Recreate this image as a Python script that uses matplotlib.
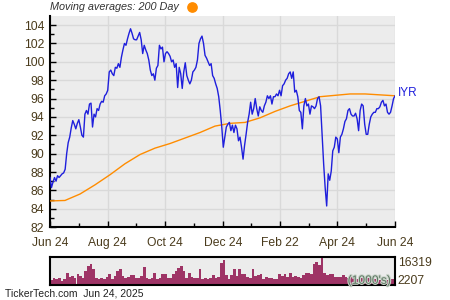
import numpy as np
import pandas as pd
import matplotlib
matplotlib.use('Agg')
import matplotlib.pyplot as plt
import matplotlib.patheffects as pe

plt.rcParams['font.family'] = ['Liberation Sans', 'DejaVu Sans']

# ============================================================
# Data
# ============================================================
ticker = 'IYR'
start_date = '2024-06-24'
end_date = '2025-06-24'

price = [
    87.4, 86.3, 86.9, 87.4, 87.0, 87.6, 87.4, 87.6, 87.8, 87.9,
    88.3, 90.0, 91.2, 91.8, 92.8, 93.6, 93.2, 92.7, 93.3, 93.7,
    92.9, 92.0, 91.8, 94.3, 94.7, 94.3, 95.4, 95.5, 92.9, 94.3,
    94.0, 94.9, 94.7, 95.4, 95.7, 95.6, 96.3, 96.5, 96.9, 98.9,
    99.1, 98.7, 98.5, 99.4, 99.3, 99.8, 99.4, 100.5, 101.3, 102.0,
    101.8, 102.5, 103.1, 103.6, 103.1, 102.5, 102.4, 102.4, 102.8, 103.2,
    102.4, 100.9, 101.8, 101.3, 100.9, 100.2, 99.1, 98.5, 98.7, 98.0,
    99.3, 99.6, 101.8, 101.4, 101.6, 100.0, 100.9, 101.1, 100.9, 100.6,
    100.0, 100.2, 99.4, 99.8, 97.2, 99.4, 98.7, 97.1, 98.9, 99.9,
    98.5, 98.0, 97.6, 98.0, 98.9, 99.1, 99.4, 100.2, 102.0, 102.5,
    102.8, 102.0, 100.7, 100.4, 100.0, 99.6, 99.8, 98.5, 98.2, 97.6,
    97.1, 96.2, 94.7, 92.9, 90.7, 91.8, 92.9, 93.2, 93.4, 92.5,
    93.1, 92.3, 93.1, 92.7, 91.4, 91.8, 90.7, 89.4, 90.9, 92.1,
    93.4, 94.3, 95.6, 94.3, 94.9, 96.0, 94.9, 94.1, 95.1, 94.7,
    94.5, 95.2, 95.6, 96.3, 96.0, 96.3, 95.4, 96.2, 96.2, 96.5,
    96.3, 96.9, 96.3, 97.4, 97.6, 98.0, 98.2, 98.7, 98.9, 98.2,
    98.9, 96.7, 96.9, 96.2, 94.7, 94.5, 92.7, 95.2, 96.0, 95.2,
    95.4, 94.3, 95.2, 95.1, 94.9, 95.2, 96.0, 96.2, 95.2, 92.1,
    88.9, 86.3, 84.3, 87.8, 87.1, 88.1, 90.3, 90.7, 91.8, 91.6,
    90.1, 91.8, 92.1, 92.7, 93.5, 93.8, 94.7, 94.9, 94.3, 94.1,
    94.1, 94.4, 93.8, 92.5, 94.7, 95.4, 95.2, 93.2, 92.1, 92.1,
    93.2, 94.0, 94.3, 94.5, 94.5, 94.9, 94.9, 95.1, 95.6, 95.8,
    95.2, 95.4, 94.5, 94.3, 94.5, 95.2, 96.0, 96.3,
]

ma200 = [
    84.85, 84.9, 85.6, 86.6, 87.7, 88.9, 89.9, 90.6, 91.1, 91.7,
    92.3, 93.0, 93.3, 93.4, 93.9, 94.6, 95.2, 95.7, 96.2, 96.35,
    96.5, 96.5, 96.4, 96.3,
]

# volume in thousands
volume = [
    2770, 4240, 3260, 3920, 2450, 3590, 7180, 4730, 5390, 3920,
    6200, 5060, 4240, 8000, 11260, 12400, 8980, 3920, 3260, 4240,
    3590, 4730, 6200, 3260, 5220, 8000, 8980, 5060, 3920, 4730,
    5870, 5870, 3920, 3920, 5060, 10280, 4240, 3590, 4240, 7020,
    3590, 4240, 6200,
    6200, 4240, 3920, 6530, 8000, 9630, 10930, 8000, 4240, 7180,
    4730, 4240, 3920, 8980, 3430, 4240, 3260, 4240, 5870, 3920,
    4730, 12730, 14690, 5870, 3590, 5870, 8980, 5060, 8980, 6200,
    6200, 4730, 3920, 8980, 5060, 5870, 6200, 3590, 4730, 3920,
    4240, 3260, 3590, 6200,
    5220, 6360, 4730, 6690, 4410, 5220, 4730, 4080, 5550, 6690,
    7180, 6530, 12400, 13380, 11590, 16319, 7180, 5710, 6200, 6360,
    4410, 4730, 4410, 5550, 4900, 3920, 4730, 4080, 3590, 4240,
    3920, 3590, 4080, 4730, 3260, 3590, 3920, 2940, 3590, 3260,
    2940, 3260, 3260,
]

tick_dates = ['2024-06-24', '2024-08-24', '2024-10-24', '2024-12-24',
              '2025-02-22', '2025-04-24', '2025-06-24']
tick_labels = ['Jun 24', 'Aug 24', 'Oct 24', 'Dec 24', 'Feb 22', 'Apr 24', 'Jun 24']
vol_ticks = [2207, 16319]

text_col = '#4a3b1c'
bg_col = '#ececec'
grid_col = '#d9d9d9'

# ============================================================
# Figure
# ============================================================
fig = plt.figure(figsize=(4.5, 3.0), dpi=100)
fig.patch.set_facecolor('white')

t0 = pd.Timestamp(start_date)
t1 = pd.Timestamp(end_date)
price_x = pd.date_range(t0, t1, periods=len(price))
ma_x = pd.date_range(t0, t1, periods=len(ma200))
tick_x = pd.to_datetime(tick_dates)
minor_x = tick_x[:-1] + (tick_x[1:] - tick_x[:-1]) / 2

# --- price panel
ax = fig.add_axes([0.111, 0.243, 0.767, 0.704])
ax.set_facecolor(bg_col)
ax.plot(ma_x, ma200, color='#ff8c00', lw=1.0, zorder=3)
ax.plot(price_x, price, color='#1f1fdc', lw=1.0, zorder=4)

ax.set_xlim(t0, t1)
ax.set_ylim(82, 105)
ax.set_yticks(np.arange(82, 105, 2))
ax.set_yticks(np.arange(83, 105, 2), minor=True)
ax.set_xticks(tick_x)
ax.set_xticklabels(tick_labels)
ax.set_xticks(minor_x, minor=True)

ax.grid(True, which='major', color=grid_col, lw=1.0)
ax.set_axisbelow(True)
for side in ['top', 'right']:
    ax.spines[side].set_visible(False)
for side in ['left', 'bottom']:
    ax.spines[side].set_linewidth(1.5)
    ax.spines[side].set_color('black')

ax.tick_params(which='major', direction='in', length=4, width=1,
               labelsize=8.7, labelcolor=text_col)
ax.tick_params(which='minor', direction='in', length=3, width=1)
ax.tick_params(axis='x', which='major', pad=7)
ax.tick_params(axis='y', which='major', pad=4)

ax.annotate(ticker, xy=(price_x[-1], price[-1]), xytext=(2, 2),
            textcoords='offset points', va='center', ha='left',
            fontsize=8.5, color='#1f1fdc', annotation_clip=False)

# --- volume panel
axv = fig.add_axes([0.111, 0.05, 0.767, 0.094])
axv.set_facecolor(bg_col)
edges = pd.date_range(t0, t1, periods=len(volume) + 1)
bar_w = (t1 - t0) / len(volume)
axv.bar(edges[:-1], volume, width=bar_w, align='edge', color='#9e3466', lw=0)
axv.set_xlim(t0, t1)
axv.set_ylim(0, max(vol_ticks))
axv.set_xticks([])
axv.yaxis.tick_right()
axv.set_yticks(vol_ticks)
axv.set_yticklabels([str(v) for v in vol_ticks])
axv.tick_params(axis='y', length=0, pad=2, labelsize=8.7, labelcolor=text_col)
labs = axv.get_yticklabels()
labs[0].set_va('center')
labs[1].set_va('top')
for s in axv.spines.values():
    s.set_linewidth(1.5)
    s.set_color('black')
axv.text(0.99, 0.15, "(1000's)", transform=axv.transAxes, ha='right', va='center',
         fontsize=8.7, color='#5b7560', zorder=5,
         path_effects=[pe.withStroke(linewidth=1.5, foreground='#c9d3c9')])

# --- header / footer
fig.text(0.111, 0.977, 'Moving averages: 200 Day', style='italic',
         fontsize=7.8, color='#333333', va='center', ha='left')
fig.add_artist(plt.Line2D([0.427], [0.977], marker='o', markersize=6.7,
                          color='#ff8c00', transform=fig.transFigure))
fig.text(0.011, 0.02, 'TickerTech.com  Jun 24, 2025', fontsize=7.5,
         color='#222222', va='center', ha='left')

fig.savefig('out.png', dpi=100, facecolor='white')
